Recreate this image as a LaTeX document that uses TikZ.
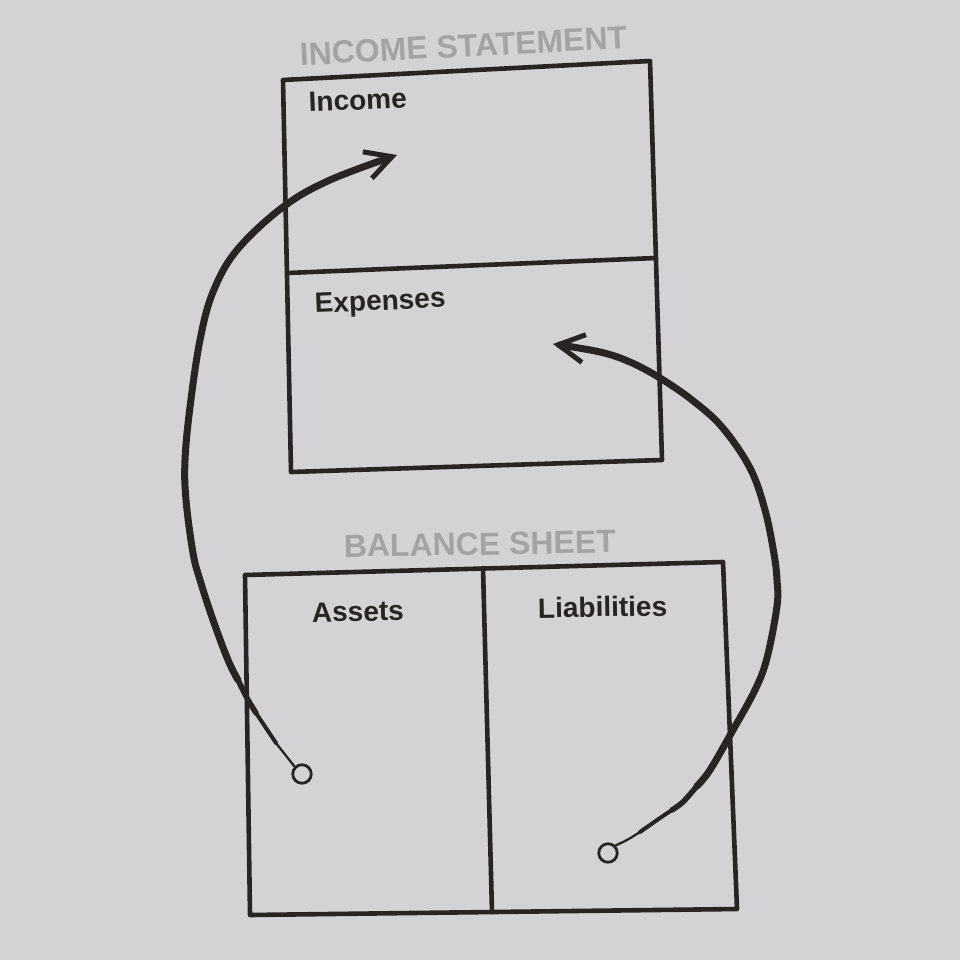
\documentclass[tikz,border=0pt]{standalone}
\usepackage{fontspec}
\setmainfont{Liberation Sans}
\usetikzlibrary{arrows.meta}
\definecolor{paper}{RGB}{213,210,213}
\definecolor{ink}{RGB}{40,36,36}
\definecolor{titlegray}{RGB}{165,162,165}
\begin{document}
\begin{tikzpicture}[x=1pt,y=-1pt,
  boxline/.style={draw=ink, line width=4.6pt, line join=round, line cap=round},
  lbl/.style={text=ink, font=\fontsize{28}{30}\selectfont\bfseries, inner sep=0pt, anchor=base west},
  ttl/.style={text=titlegray, font=\fontsize{32}{34}\selectfont\bfseries, inner sep=0pt, anchor=base},
  endring/.style={circle, draw=ink, line width=2.8pt, minimum size=18.5pt, inner sep=0pt},
  arrowline/.style={draw=ink, line cap=round, line join=round},
  headtip/.style={-{Straight Barb[length=26pt,width=28pt,line width=5pt]}},
]
\fill[paper] (0,0) rectangle (960,960);
\useasboundingbox (0,0) rectangle (960,960);

% Income statement box
\coordinate (isTL) at (283,80);
\coordinate (isTR) at (650,61);
\coordinate (isBR) at (662,460);
\coordinate (isBL) at (291,472);
\coordinate (isDL) at (287,273);
\coordinate (isDR) at (656,258);
\draw[boxline] (isTL) -- (isTR) -- (isBR) -- (isBL) -- cycle;
\draw[boxline] (isDL) -- (isDR);

% Balance sheet box
\coordinate (bsTL) at (245,575);
\coordinate (bsTR) at (723,562);
\coordinate (bsBR) at (737,909);
\coordinate (bsBL) at (250,915);
\coordinate (bsDT) at (483,568);
\coordinate (bsDB) at (492,912);
\draw[boxline] (bsTL) -- (bsTR) -- (bsBR) -- (bsBL) -- cycle;
\draw[boxline] (bsDT) -- (bsDB);

% Titles
\node[ttl, rotate=3] (tIS) at (464,57) {INCOME STATEMENT};
\node[ttl, rotate=1] (tBS) at (480,555) {BALANCE SHEET};

% Labels
\node[lbl, rotate=2.5] (lInc) at (309,112) {Income};
\node[lbl, rotate=2.5] (lExp) at (315,313) {Expenses};
\node[lbl, rotate=1] (lAss) at (312,622) {Assets};
\node[lbl, rotate=1] (lLia) at (538,618) {Liabilities};

% End rings
\node[endring] (cL) at (302,774) {};
\node[endring] (cR) at (608,853) {};
\coordinate (tipL) at (397,155);
\coordinate (tipR) at (553,344);

% Left arrow: assets -> income
\draw[arrowline, line width=2.3pt] plot[smooth] coordinates {(cL.north west) (287,757) (276,743)};
\draw[arrowline, line width=4pt] plot[smooth] coordinates {(276,743) (266,728) (256,713)};
\draw[arrowline, line width=5.5pt] plot[smooth] coordinates {(256,713) (247,698) (238,680)};
\draw[arrowline, line width=7pt, headtip] plot[smooth, tension=0.6] coordinates {(238,680) (228,660) (213,620) (200,580) (193,553) (186,500) (185,460) (190,407) (200,340) (213,292) (237,250) (283,207) (330,180) (tipL)};

% Right arrow: liabilities -> expenses
\draw[arrowline, line width=2.3pt] plot[smooth] coordinates {(cR.north east) (627,840) (640,832)};
\draw[arrowline, line width=4pt] plot[smooth] coordinates {(640,832) (660,818) (672,810)};
\draw[arrowline, line width=5.5pt] plot[smooth] coordinates {(672,810) (683,802) (697,786)};
\draw[arrowline, line width=7pt, headtip] plot[smooth, tension=0.6] coordinates {(697,786) (710,770) (733,730) (755,690) (767,658) (777,606) (777,580) (774,554) (765,510) (750,468) (722,427) (692,400) (660,378) (630,362) (600,352) (tipR)};
\end{tikzpicture}
\end{document}
